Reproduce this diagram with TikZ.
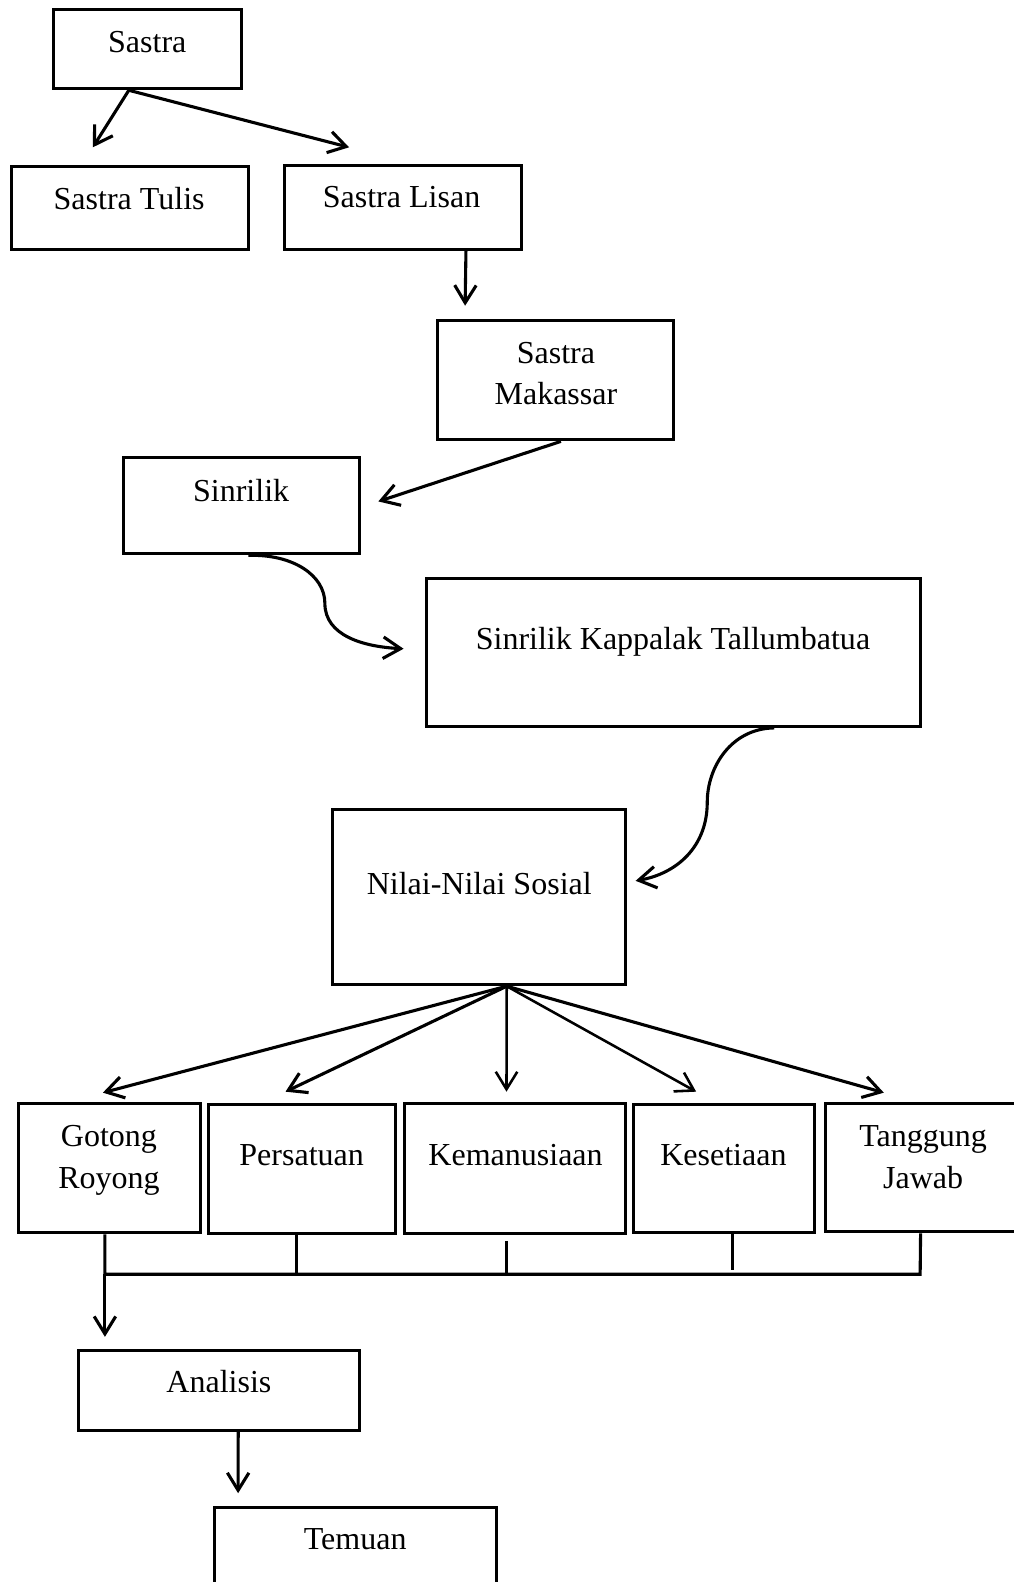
\documentclass[tikz,border=0pt]{standalone}
\usepackage{fontspec}
\setmainfont{Liberation Serif}
\usetikzlibrary{arrows.meta,fit,calc}
\begin{document}
\begin{tikzpicture}[x=0.75pt,y=-0.75pt,
  box/.style={draw, line width=2.2pt, inner sep=0pt, rectangle},
  lbl/.style={font=\fontsize{23.8}{30.75}\selectfont, inner sep=0pt, align=center},
  conn/.style={line width=2.3pt},
  arr/.style={line width=2.3pt, -{Straight Barb[length=13pt,width=16pt]}}]
\useasboundingbox (0,0) rectangle (1005,1568);
\fill[white] (0,0) rectangle (1005,1568);

% boxes
\node[box, fit={(53,9) (239,88)}] (sastra) {};
\node[box, fit={(11,165) (246,247)}] (tulis) {};
\node[box, fit={(282,164) (517,247)}] (lisan) {};
\node[box, fit={(434,318) (668,436)}] (makassar) {};
\node[box, fit={(122,453) (356,549)}] (sinrilik) {};
\node[box, fit={(423,573) (912,720)}] (skt) {};
\node[box, fit={(330,802) (620,976)}] (nilai) {};
\node[box, fit={(18,1094) (199,1222)}] (gotong) {};
\node[box, fit={(207,1095) (392,1223)}] (persatuan) {};
\node[box, fit={(401,1094) (620,1223)}] (kemanusiaan) {};
\node[box, fit={(628,1095) (807,1222)}] (kesetiaan) {};
\node[box, fit={(818,1094) (1012,1221)}] (tanggung) {};
\node[box, fit={(78,1339) (356,1418)}] (analisis) {};
\node[box, fit={(213,1494) (492,1600)}] (temuan) {};

% texts
\node[lbl, anchor=base] (tSastra) at (146,52.5) {Sastra};
\node[lbl, anchor=base] (tTulis) at (128,207.5) {Sastra Tulis};
\node[lbl, anchor=base] (tLisan) at (398,205.5) {Sastra Lisan};
\node[lbl] (tMakassar) at (551,370) {Sastra\\Makassar};
\node[lbl, anchor=base] (tSinrilik) at (239,497.5) {Sinrilik};
\node[lbl, anchor=base] (tSkt) at (667,643.5) {Sinrilik Kappalak Tallumbatua};
\node[lbl, anchor=base] (tNilai) at (475,886.5) {Nilai-Nilai Sosial};
\node[lbl] (tGotong) at (108,1150) {Gotong\\Royong};
\node[lbl, anchor=base] (tPersatuan) at (299,1155.5) {Persatuan};
\node[lbl, anchor=base] (tKemanusiaan) at (511,1155.5) {Kemanusiaan};
\node[lbl, anchor=base] (tKesetiaan) at (717,1155.5) {Kesetiaan};
\node[lbl] (tTanggung) at (915,1147) {Tanggung\\Jawab};
\node[lbl, anchor=base] (tAnalisis) at (217,1380.5) {Analisis};
\node[lbl, anchor=base] (tTemuan) at (352,1535.5) {Temuan};

% free arrow ends
\coordinate (eTulis) at (92,146);
\coordinate (eLisan) at (346,146);
\coordinate (eMakassar) at (461,303);
\coordinate (eSinrilik) at (375,497);
\coordinate (eSkt) at (400,643);
\coordinate (eNilai) at (630,873);
\coordinate (eG) at (102,1083);
\coordinate (eP) at (283,1082);
\coordinate (eK) at (502,1082);
\coordinate (eS) at (690,1082);
\coordinate (eT) at (876,1083);
\coordinate (busL) at (104,1263);
\coordinate (busR) at (912,1263);
\coordinate (eAnalisis) at (104,1325);
\coordinate (eTemuan) at (236,1480);

% connectors
\coordinate (sOut) at ($(sastra.south west)!0.403!(sastra.south east)$);
\draw[arr] (sOut) -- (eTulis);
\draw[arr] (sOut) -- (eLisan);
\draw[arr] ($(lisan.south west)!0.762!(lisan.south east)$) -- (eMakassar);
\draw[arr] ($(makassar.south west)!0.521!(makassar.south east)$) -- (eSinrilik);
\draw[arr] ($(sinrilik.south west)!0.53!(sinrilik.south east)$)
   .. controls (290,549) and (322,570) .. (322,598)
   .. controls (322,630) and (360,641) .. (eSkt);
\draw[arr] ($(skt.south west)!0.703!(skt.south east)$)
   .. controls (725,722) and (701,760) .. (701,795)
   .. controls (701,840) and (670,866) .. (eNilai);

\coordinate (nOut) at ($(nilai.south west)!0.593!(nilai.south east)$);
\draw[arr] (nOut) -- (eG);
\draw[arr] (nOut) -- (eP);
\draw[arr, line width=1.9pt] (nOut) -- (eK);
\draw[arr, line width=1.9pt] (nOut) -- (eS);
\draw[arr] (nOut) -- (eT);

% bottom bus
\draw[conn] ($(gotong.south west)!0.475!(gotong.south east)$) -- (busL) -- (busR)
   -- ($(tanggung.south west)!0.487!(tanggung.south east)$);
\coordinate (pOut) at ($(persatuan.south west)!0.47!(persatuan.south east)$);
\draw[conn] (pOut) -- (pOut |- busL);
\coordinate (kOut) at ($(kemanusiaan.south west)!0.461!(kemanusiaan.south east)$);
\draw[conn] ([yshift=-4pt]kOut) -- (kOut |- busL);
\coordinate (ksOut) at ($(kesetiaan.south west)!0.547!(kesetiaan.south east)$);
\draw[conn] (ksOut) -- ([yshift=3pt]ksOut |- busL);
\draw[arr] (busL) -- (eAnalisis);
\draw[arr] ($(analisis.south west)!0.568!(analisis.south east)$) -- (eTemuan);
\end{tikzpicture}
\end{document}
